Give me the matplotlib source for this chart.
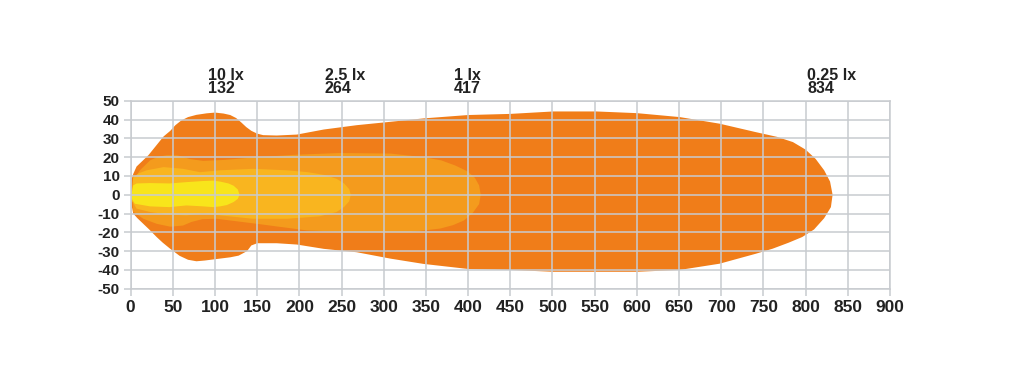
"""Isolux diagram: 0.25 / 1 / 2.5 / 10 lx contours of a driving light."""

import matplotlib

matplotlib.use("Agg")
import matplotlib.pyplot as plt

plt.rcParams["font.family"] = ["Liberation Sans", "DejaVu Sans"]
plt.rcParams["axes.unicode_minus"] = False

# contour outlines (distance m, lateral m)
LUX_025_X = [0, 1, 3, 7, 14, 21, 30, 39, 47, 53, 60, 68, 78, 90, 100, 110, 118, 125, 131, 137,
             143, 150, 157, 173, 197, 229, 268, 308, 347, 400, 450, 501, 552, 600, 651, 698, 741,
             766, 785, 800, 812, 822, 829, 832,
             830, 822, 810, 796, 780, 761, 741, 698, 651, 600, 501, 450, 400, 347, 308, 268, 229,
             197, 173, 150, 143, 138, 128, 118, 102, 88, 78, 68, 58, 47, 38, 31, 22, 15, 8, 3, 0]
LUX_025_Y = [3, 8, 11, 15, 18, 21, 26, 31, 34, 37, 39.5, 41.3, 42.5, 43.3, 43.7, 43.2, 42.4, 40.8,
             38.5, 36, 34, 32.5, 31.7, 31.5, 32, 34.7, 37, 38.8, 40.6, 42.4, 43, 44.3, 44.3, 43.4,
             41.3, 37.8, 33.3, 30.8, 28, 24, 19, 13, 7, 0,
             -6.6, -12.5, -18.5, -22.5, -25.5, -28.7, -31.4, -36.7, -40, -41, -41, -40, -39.5,
             -36.8, -34, -30.6, -28.8, -26.5, -25.8, -25.8, -27, -30, -32.4, -33.3, -34.2, -35,
             -35.4, -34.6, -32.5, -28.8, -25.5, -22.6, -18.5, -15.5, -12.5, -10, -3]

LUX_1_X = [2, 3, 11, 23, 33, 43, 55, 63, 70, 86, 110, 150, 197, 248, 308, 347, 368, 385, 399, 408,
           413, 415, 413, 405, 395, 382, 367, 328, 268, 209, 150, 102, 85, 72, 62, 47, 31, 15, 3]
LUX_1_Y = [0, 7.6, 13, 18.3, 20.3, 21, 21, 20, 19, 18, 18.5, 20, 21.3, 22.2, 21.9, 20, 18.3, 15.5,
           12.5, 9, 5, 0, -5, -10, -13.7, -16.2, -18, -20, -20, -19, -15.5, -12.8, -13, -14.5,
           -16.4, -17, -15.5, -12.8, -9]

LUX_25_X = [1, 3, 10, 19, 39, 62, 82, 106, 145, 185, 210, 230, 244, 253, 259, 261,
            259, 253, 244, 224, 185, 145, 106, 86, 66, 43, 23, 7, 1]
LUX_25_Y = [0, 9.4, 11.5, 13, 14.7, 13.8, 12, 13, 13.8, 13, 12, 10.5, 8.5, 6, 3, 0,
            -3.5, -6.5, -9.2, -11.5, -12.8, -12.8, -11, -10, -11, -10.5, -9.2, -7.4, -3]

LUX_10_X = [1, 3, 7, 23, 46, 66, 86, 98, 106, 116, 122, 127, 129, 127, 122, 114, 106, 98, 86, 66,
            46, 23, 5, 1]
LUX_10_Y = [0, 5, 6, 6.2, 6, 6.7, 7.3, 7.5, 7, 6, 4.8, 2.8, 0, -2.2, -3.9, -5.5, -6.2, -6.6, -6.2,
            -5.7, -6.6, -6.2, -4.8, -2]

COLORS = ["#f07d19", "#f49b1d", "#f9b51f", "#f8e51b"]

LABELS = ["10 lx\n132", "2.5 lx\n264", "1 lx\n417", "0.25 lx\n834"]
LABEL_X = [92, 230, 383, 802]

X_TICKS = list(range(0, 901, 50))
Y_TICKS = list(range(-50, 51, 10))

GRID = "#c8cbcf"
TEXT = "#222222"


def main() -> None:
    fig = plt.figure(figsize=(10.24, 3.92), dpi=100)
    ax = fig.add_axes([0.1276, 0.2635, 0.7415, 0.4795])

    shapes = [(LUX_025_X, LUX_025_Y), (LUX_1_X, LUX_1_Y), (LUX_25_X, LUX_25_Y), (LUX_10_X, LUX_10_Y)]
    for (xs, ys), color in zip(shapes, COLORS):
        ax.fill(xs, ys, color=color, lw=0, zorder=1)

    ax.set_xlim(0, 900)
    ax.set_ylim(-50, 50)
    ax.set_xticks(X_TICKS)
    ax.set_yticks(Y_TICKS)
    ax.set_axisbelow(False)
    ax.grid(True, color=GRID, linewidth=1.1)
    for spine in ax.spines.values():
        spine.set_color(GRID)
        spine.set_linewidth(1.1)
    ax.tick_params(axis="both", colors=GRID, length=5, width=1.1)
    ax.tick_params(axis="x", labelsize=12.5, labelcolor=TEXT, pad=3)
    ax.tick_params(axis="y", labelsize=11, labelcolor=TEXT, pad=3)
    for label in ax.get_xticklabels() + ax.get_yticklabels():
        label.set_fontweight("bold")

    for text, x in zip(LABELS, LABEL_X):
        ax.text(x, 52.6, text, ha="left", va="bottom", fontsize=11.5, fontweight="bold",
                color=TEXT, linespacing=0.85, clip_on=False)

    fig.savefig("out.png", dpi=100, facecolor="white")
    plt.close(fig)


if __name__ == "__main__":
    main()
